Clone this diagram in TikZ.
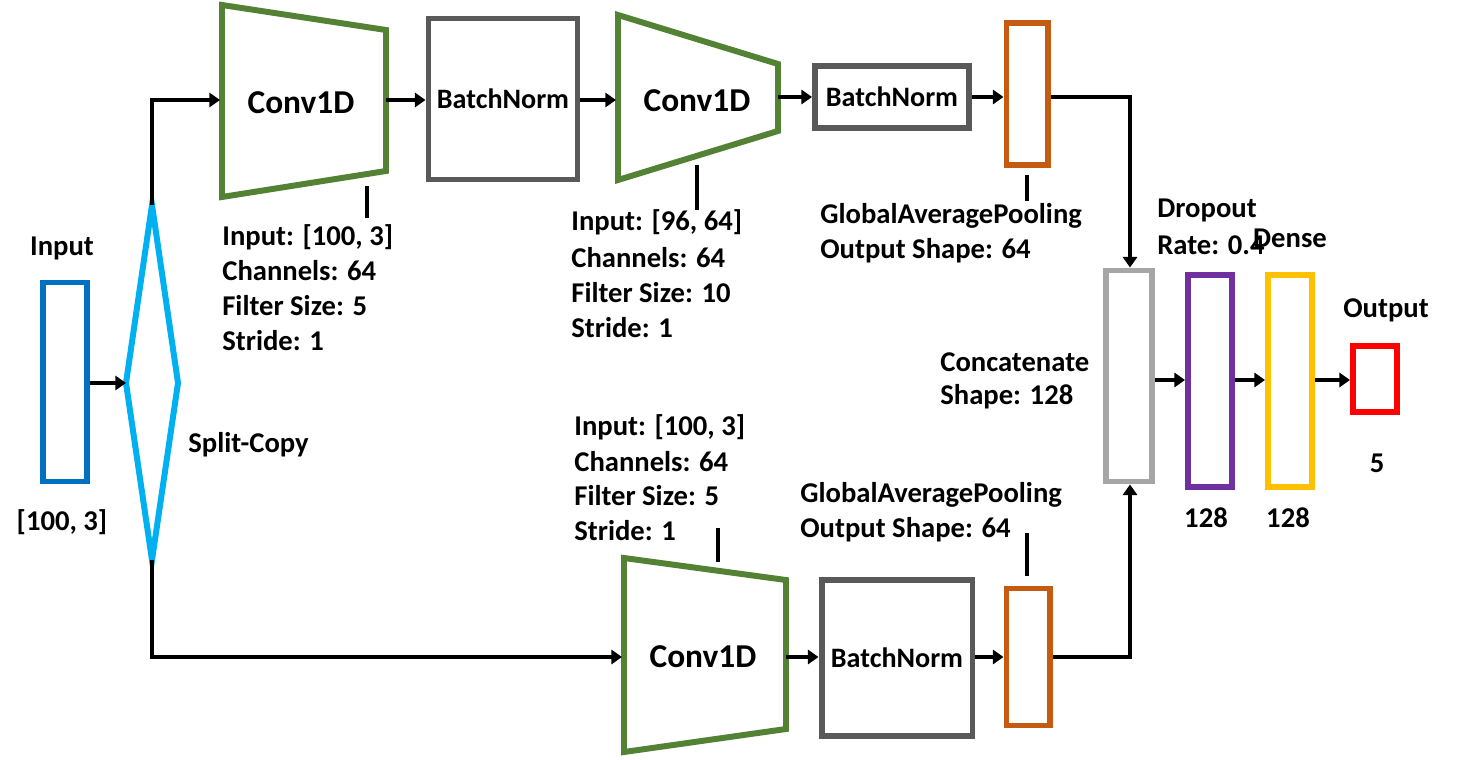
\documentclass[tikz,border=0pt]{standalone}
\usepackage{fontspec}
\setmainfont{Carlito}
\usetikzlibrary{arrows.meta}
\definecolor{cblue}{RGB}{0,112,192}
\definecolor{clblue}{RGB}{0,176,240}
\definecolor{cgreen}{RGB}{84,130,53}
\definecolor{cgray}{RGB}{89,89,89}
\definecolor{corange}{RGB}{197,90,17}
\definecolor{clgray}{RGB}{166,166,166}
\definecolor{cpurple}{RGB}{112,48,160}
\definecolor{cyellow}{RGB}{255,192,0}
\definecolor{cred}{RGB}{255,0,0}
\tikzset{
 box/.style={draw,line width=3.4pt,inner sep=0pt},
 arr/.style={-{Triangle[length=6pt,width=8pt]},line width=1.8pt},
 tick/.style={line width=1.8pt},
 lbl/.style={font=\bfseries\fontsize{16.3}{18}\selectfont,anchor=west,inner sep=0pt},
 clbl/.style={font=\bfseries\fontsize{16.3}{18}\selectfont,inner sep=0pt},
 convt/.style={font=\bfseries\fontsize{19}{21}\selectfont},
 bnt/.style={font=\bfseries\fontsize{16}{18}\selectfont},
}
\begin{document}
\begin{tikzpicture}[x=0.02cm,y=-0.02cm]
\useasboundingbox (0,0) rectangle (1470,760);
% input
\node[box,draw=cblue,minimum width=1cm-3.4pt,minimum height=4.1cm-3.4pt] (in) at (65,382) {};
% diamond
\coordinate (dt) at (152,205); \coordinate (db) at (152,560);
\coordinate (dl) at (126,383); \coordinate (dr) at (178,383);
\draw[line width=3.4pt,draw=clblue,line join=miter] (dt)--(dr)--(db)--(dl)--cycle;
% top conv1
\coordinate (c1a) at (222,5); \coordinate (c1b) at (386,30); \coordinate (c1c) at (386,171); \coordinate (c1d) at (222,197);
\draw[line width=3.4pt,draw=cgreen] (c1a)--(c1b)--(c1c)--(c1d)--cycle;
\node[convt] (c1) at (301,103) {Conv1D};
\node[box,draw=cgray,minimum width=3.1cm-3.4pt,minimum height=3.34cm-3.4pt,bnt] (bn1) at (503,99) {BatchNorm};
\coordinate (c2a) at (618,15); \coordinate (c2b) at (778,64); \coordinate (c2c) at (778,131); \coordinate (c2d) at (618,180);
\draw[line width=3.4pt,draw=cgreen] (c2a)--(c2b)--(c2c)--(c2d)--cycle;
\node[convt] (c2) at (697,101) {Conv1D};
\node[box,draw=cgray,minimum width=3.2cm-3.4pt,minimum height=1.36cm-3.4pt,bnt] (bn2) at (892,97) {BatchNorm};
\node[box,draw=corange,minimum width=0.94cm-3.4pt,minimum height=2.96cm-3.4pt] (p1) at (1027,94) {};
% bottom
\coordinate (c3a) at (624,558); \coordinate (c3b) at (786,580); \coordinate (c3c) at (786,729); \coordinate (c3d) at (624,752);
\draw[line width=3.4pt,draw=cgreen] (c3a)--(c3b)--(c3c)--(c3d)--cycle;
\node[convt] (c3) at (703,657) {Conv1D};
\node[box,draw=cgray,minimum width=3.14cm-3.4pt,minimum height=3.24cm-3.4pt,bnt] (bn3) at (897,658) {BatchNorm};
\node[box,draw=corange,minimum width=0.98cm-3.4pt,minimum height=2.86cm-3.4pt] (p2) at (1028,657) {};
% right side
\node[box,draw=clgray,minimum width=1.04cm-3.4pt,minimum height=4.34cm-3.4pt] (cat) at (1129,376) {};
\node[box,draw=cpurple,minimum width=1cm-3.4pt,minimum height=4.36cm-3.4pt] (dr1) at (1210,381) {};
\node[box,draw=cyellow,minimum width=1cm-3.4pt,minimum height=4.36cm-3.4pt] (de) at (1290,381) {};
\node[box,draw=cred,minimum width=1cm-3.4pt,minimum height=1.44cm-3.4pt] (out) at (1375,379) {};
% arrows
\draw[arr] (in.east|-0,383) -- (dl);
\coordinate (k1) at (152,100); \coordinate (k1e) at (220,100);
\draw[arr] (dt) -- (k1) -- (k1e);
\coordinate (k2) at (152,657); \coordinate (k2e) at (622,657);
\draw[arr] (db) -- (k2) -- (k2e);
\draw[arr] (386,100) -- (bn1.west|-0,100);
\draw[arr] (bn1.east|-0,100) -- (616,100);
\draw[arr] (778,97) -- (bn2.west|-0,97);
\draw[arr] (bn2.east|-0,97) -- (p1.west|-0,97);
\coordinate (k3) at (1130,97);
\draw[arr] (p1.east|-0,97) -- (k3) -- (cat.north-|k3);
\draw[arr] (786,657) -- (bn3.west|-0,657);
\draw[arr] (bn3.east|-0,657) -- (p2.west|-0,657);
\coordinate (k4) at (1130,657);
\draw[arr] (p2.east|-0,657) -- (k4) -- (cat.south-|k4);
\draw[arr] (cat.east|-0,380) -- (dr1.west|-0,380);
\draw[arr] (dr1.east|-0,380) -- (de.west|-0,380);
\draw[arr] (de.east|-0,380) -- (out.west|-0,380);
% ticks
\draw[tick] (367,186) -- (367,218);
\draw[tick] (697,165) -- (697,210);
\draw[tick] (1027,175) -- (1027,201);
\draw[tick] (718,528) -- (718,562);
\draw[tick] (1027,533) -- (1027,576);
% labels
\node[clbl] (tin) at (62,248) {Input};
\node[clbl] (tin2) at (62,522) {[100, 3]};
\node[lbl] (tsp) at (188,445) {Split-Copy};
\node[lbl] at (222,237) {Input: [100, 3]};
\node[lbl] at (222,271) {Channels: 64};
\node[lbl] at (222,306) {Filter Size: 5};
\node[lbl] at (222,341) {Stride: 1};
\node[lbl] at (571,222) {Input: [96, 64]};
\node[lbl] at (571,258) {Channels: 64};
\node[lbl] at (571,293) {Filter Size: 10};
\node[lbl] at (571,328) {Stride: 1};
\node[lbl] at (820,216) {GlobalAveragePooling};
\node[lbl] at (820,251) {Output Shape: 64};
\node[lbl] at (574,427) {Input: [100, 3]};
\node[lbl] at (574,462) {Channels: 64};
\node[lbl] at (574,496) {Filter Size: 5};
\node[lbl] at (574,531) {Stride: 1};
\node[lbl] at (800,495) {GlobalAveragePooling};
\node[lbl] at (800,530) {Output Shape: 64};
\node[lbl] at (940,362) {Concatenate};
\node[lbl] at (940,397) {Shape: 128};
\node[lbl] at (1157,210) {Dropout};
\node[lbl] at (1157,245) {Rate: 0.4};
\node[clbl] at (1290,238) {Dense};
\node[clbl] at (1386,310) {Output};
\node[clbl] at (1377,463) {5};
\node[clbl] at (1206,518) {128};
\node[clbl] at (1288,518) {128};
\end{tikzpicture}
\end{document}
